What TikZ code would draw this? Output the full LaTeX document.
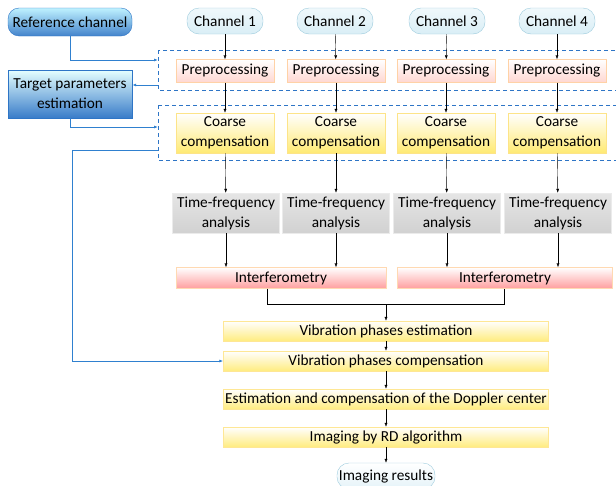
\documentclass[tikz,border=0pt]{standalone}
\usepackage{fontspec}
\setmainfont{Carlito}
\usetikzlibrary{arrows.meta}

\definecolor{lineblue}{HTML}{2F80CF}
\definecolor{dashblue}{HTML}{2E75C6}
\definecolor{chanfill}{HTML}{D9EEF6}
\definecolor{chanedge}{HTML}{9CCBDD}

\tikzset{
  every node/.style={font=\fontsize{15.3}{20}\selectfont, inner sep=0pt, align=center},
  chan/.style={draw=chanedge, top color=white!60!chanfill, bottom color=chanfill,
    rounded corners=12pt, minimum width=76pt, minimum height=26pt},
  refbox/.style={draw=dashblue, top color=blue!20!cyan!25, bottom color=dashblue!90,
    rounded corners=11pt, minimum width=124pt, minimum height=28pt},
  estbox/.style={draw=dashblue, top color=cyan!10, bottom color=dashblue!95,
    minimum width=124pt, minimum height=48pt},
  prebox/.style={draw=orange!35, top color=white, bottom color=orange!25!red!18,
    minimum width=98pt, minimum height=23pt},
  coarsebox/.style={draw=yellow!60!orange!45, top color=white, bottom color=yellow!70!orange!55,
    minimum width=98pt, minimum height=40pt},
  tfbox/.style={draw=black!8, top color=black!10, bottom color=black!18,
    minimum width=107pt, minimum height=40pt},
  interbox/.style={draw=orange!30, top color=white, bottom color=red!38,
    minimum height=21pt},
  stagebox/.style={draw=yellow!60!orange!40, top color=white, bottom color=yellow!70!orange!50,
    minimum width=325pt, minimum height=20pt},
  group/.style={draw=dashblue, dashed, dash pattern=on 4pt off 3pt, thick},
  fb/.style={draw=lineblue, thick},
  >={Latex[length=4pt,width=3pt]}
}

\begin{document}
\begin{tikzpicture}[x=1pt,y=-1pt]
    \useasboundingbox (0,0) rectangle (616,485);
    % left column
    \node[refbox] (ref) at (70,22) {Reference channel};
    \node[estbox] (tpe) at (70,94) {Target parameters\\estimation};
    % channels
    \node[chan] (ch1) at (225,21) {Channel 1};
    \node[chan] (ch2) at (335,21) {Channel 2};
    \node[chan] (ch3) at (447,21) {Channel 3};
    \node[chan] (ch4) at (557,21) {Channel 4};
    % dashed groups
    \draw[group] (158,50) rectangle (630,90);
    \draw[group] (158,105) rectangle (630,160);
    \coordinate (g1in) at (158,60);
    \coordinate (g1out) at (158,85);
    \coordinate (g2in) at (158,127);
    \coordinate (g2out) at (158,150);
    \node[prebox] (pre1) at (225,71) {Preprocessing};
    \node[prebox] (pre2) at (336,71) {Preprocessing};
    \node[prebox] (pre3) at (446,71) {Preprocessing};
    \node[prebox] (pre4) at (557,71) {Preprocessing};
    \node[coarsebox] (cc1) at (225,133) {Coarse\\compensation};
    \node[coarsebox] (cc2) at (336,133) {Coarse\\compensation};
    \node[coarsebox] (cc3) at (446,133) {Coarse\\compensation};
    \node[coarsebox] (cc4) at (557,133) {Coarse\\compensation};
    \node[tfbox] (tf1) at (226,213) {Time-frequency\\analysis};
    \node[tfbox] (tf2) at (336,213) {Time-frequency\\analysis};
    \node[tfbox] (tf3) at (447,213) {Time-frequency\\analysis};
    \node[tfbox] (tf4) at (558,213) {Time-frequency\\analysis};
    \node[interbox, minimum width=210pt] (if1) at (281,278) {Interferometry};
    \node[interbox, minimum width=215pt] (if2) at (505,278) {Interferometry};
    % bottom chain
    \node[stagebox] (vpe) at (386,331) {Vibration phases estimation};
    \node[stagebox] (vpc) at (386,361) {Vibration phases compensation};
    \node[stagebox] (edc) at (386,399) {Estimation and compensation of the Doppler center};
    \node[stagebox] (rd) at (386,437) {Imaging by RD algorithm};
    \node[chan, minimum width=98pt, top color=white, bottom color=chanfill!70] (res) at (386,476) {Imaging results};
    % channel arrows
    \draw [->] (ch1) -- (pre1);
    \draw [->] (ch2) -- (pre2);
    \draw [->] (ch3) -- (pre3);
    \draw [->] (ch4) -- (pre4);
    \draw [->] (pre1) -- (cc1);
    \draw [->] (pre2) -- (cc2);
    \draw [->] (pre3) -- (cc3);
    \draw [->] (pre4) -- (cc4);
    \draw [->] (cc1) -- (tf1);
    \draw [->] (cc2) -- (tf2);
    \draw [->] (cc3) -- (tf3);
    \draw [->] (cc4) -- (tf4);
    \draw [->] (tf1) -- (tf1 |- if1.north);
    \draw [->] (tf2) -- (tf2 |- if1.north);
    \draw [->] (tf3) -- (tf3 |- if2.north);
    \draw [->] (tf4) -- (tf4 |- if2.north);
    % merge
    \coordinate (j1) at (267,304);
    \coordinate (j2) at (504,304);
    \coordinate (jm) at (386,304);
    \draw (if1.south -| j1) -- (j1) -- (j2) -- (if2.south -| j2);
    \draw [->] (jm) -- (vpe);
    \draw [->] (vpe) -- (vpc);
    \draw [->] (vpc) -- (edc);
    \draw [->] (edc) -- (rd);
    \draw [->] (rd) -- (res);
    % feedback lines
    \coordinate (bend) at (72,150);
    \draw [fb,->] (ref) |- (g1in);
    \draw [fb,->] (g1out) -- (tpe.east |- g1out);
    \draw [fb,->] (tpe) |- (g2in);
    \draw [fb,->] (g2out) -- (bend) |- (vpc.west);
  \end{tikzpicture}
\end{document}
